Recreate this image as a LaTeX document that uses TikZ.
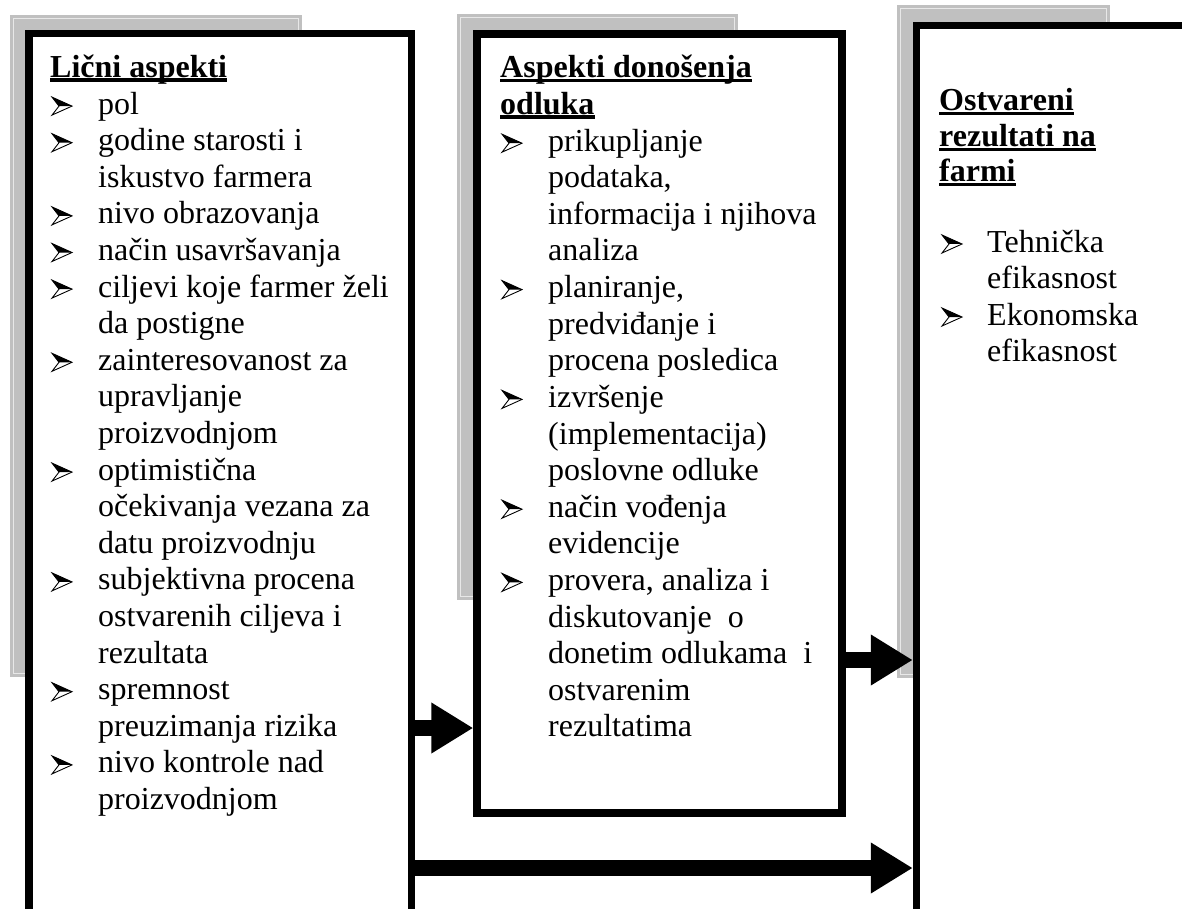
\documentclass[tikz,border=0pt]{standalone}
\usepackage{fontspec}
\setmainfont{Liberation Serif}
\usetikzlibrary{arrows.meta,fit}
\definecolor{shadowgray}{HTML}{C0C0C0}
\definecolor{shadowline}{HTML}{E8E8E8}
\begin{document}
\begin{tikzpicture}[x=1pt,y=-1pt,
  shadowfill/.style={fill=shadowgray,draw=none},
  shadowedge/.style={draw=shadowline,line width=1pt},
  frame/.style={draw=black,line width=7.5pt,fill=white,rectangle,inner sep=0pt},
  txt/.style={anchor=base west,inner sep=0pt,font=\fontsize{32}{36}\selectfont},
  head/.style={anchor=base west,inner sep=0pt,font=\fontsize{32}{36}\selectfont\bfseries},
  arrowbullet/.pic={
    \fill[black] (0,-17) -- (20,-8) -- (7,-8) -- cycle;
    \draw[black,line width=0.9pt,line join=miter] (0,-17) -- (20,-8) -- (0,1) -- (7,-8) -- cycle;
  },
  blockarrow/.style={line width=16pt,-{Triangle[length=42pt,width=48pt]}},
  uline/.style={line width=3.2pt}
]
\useasboundingbox (0,0) rectangle (1182,909);
\fill[white] (0,0) rectangle (1182,909);
\clip (0,0) rectangle (1182,909);

% shadows
\fill[shadowfill] (10,15) rectangle (302,677);
\draw[shadowedge] (13.5,18.5) rectangle (298.5,673.5);
\fill[shadowfill] (457,14) rectangle (738,600);
\draw[shadowedge] (460.5,17.5) rectangle (734.5,596.5);
\fill[shadowfill] (897,5) rectangle (1110,678);
\draw[shadowedge] (900.5,8.5) rectangle (1106.5,674.5);

% boxes
\coordinate (b1nw) at (28.75,33.75);
\coordinate (b1se) at (411.25,1000);
\node[frame,fit=(b1nw)(b1se)] (box1) {};
\coordinate (b2nw) at (477,34);
\coordinate (b2se) at (842,813);
\node[frame,fit=(b2nw)(b2se)] (box2) {};
\coordinate (b3nw) at (916.5,25.75);
\coordinate (b3se) at (1300,1000);
\node[frame,fit=(b3nw)(b3se)] (box3) {};

% box 1 text
\node[head] (b1h) at (50,77.5) {Lični aspekti};
\draw[uline] ([yshift=-2.5pt]b1h.base west) -- ([yshift=-2.5pt]b1h.base east);
\foreach \t [count=\i from 1] in {pol,godine starosti i,iskustvo farmera,nivo obrazovanja,način usavršavanja,ciljevi koje farmer želi,da postigne,zainteresovanost za,upravljanje,proizvodnjom,optimistična,očekivanja vezana za,datu proizvodnju,subjektivna procena,ostvarenih ciljeva i,rezultata,spremnost,preuzimanja rizika,nivo kontrole nad,proizvodnjom}
  \node[txt] (b1t\i) at (98,{77.5+36.6*\i}) {\t};
\foreach \i in {1,2,4,5,6,8,11,14,17,19}
  \pic (b1b\i) at (52,{77.5+36.6*\i}) {arrowbullet};

% box 2 text
\node[head] (b2h0) at (500,78) {Aspekti donošenja};
\draw[uline] ([yshift=-2.5pt]b2h0.base west) -- ([yshift=-2.5pt]b2h0.base east);
\node[head] (b2h1) at (500,{78+36.6}) {odluka};
\draw[uline] ([yshift=-2.5pt]b2h1.base west) -- ([yshift=-2.5pt]b2h1.base east);
\foreach \t [count=\i from 2] in {prikupljanje,{podataka,},informacija i njihova,analiza,{planiranje,},predviđanje i,procena posledica,izvršenje,(implementacija),poslovne odluke,način vođenja,evidencije,{provera, analiza i},diskutovanje\ \ o,donetim odlukama\ \ i,ostvarenim,rezultatima}
  \node[txt] (b2t\i) at (548,{78+36.6*\i}) {\t};
\foreach \i in {2,6,9,12,14}
  \pic (b2b\i) at (502,{78+36.6*\i}) {arrowbullet};

% box 3 text
\node[head] (b3h0) at (939,111) {Ostvareni};
\draw[uline] ([yshift=-2.5pt]b3h0.base west) -- ([yshift=-2.5pt]b3h0.base east);
\node[head] (b3h1) at (939,147) {rezultati na};
\draw[uline] ([yshift=-2.5pt]b3h1.base west) -- ([yshift=-2.5pt]b3h1.base east);
\node[head] (b3h2) at (939,182) {farmi};
\draw[uline] ([yshift=-2.5pt]b3h2.base west) -- ([yshift=-2.5pt]b3h2.base east);
\node[txt] (b3t1) at (987,252) {Tehnička};
\node[txt] (b3t2) at (987,288) {efikasnost};
\node[txt] (b3t3) at (987,325) {Ekonomska};
\node[txt] (b3t4) at (987,361) {efikasnost};
\pic (b3b1) at (942,252) {arrowbullet};
\pic (b3b3) at (942,325) {arrowbullet};

% arrows
\coordinate (ay1) at (0,728);
\coordinate (ay2) at (0,660);
\coordinate (ay3) at (0,868);
\draw[blockarrow] (box1.east |- ay1) -- (box2.west |- ay1);
\draw[blockarrow] (box2.east |- ay2) -- (box3.west |- ay2);
\draw[blockarrow] (box1.east |- ay3) -- (box3.west |- ay3);
\end{tikzpicture}
\end{document}
